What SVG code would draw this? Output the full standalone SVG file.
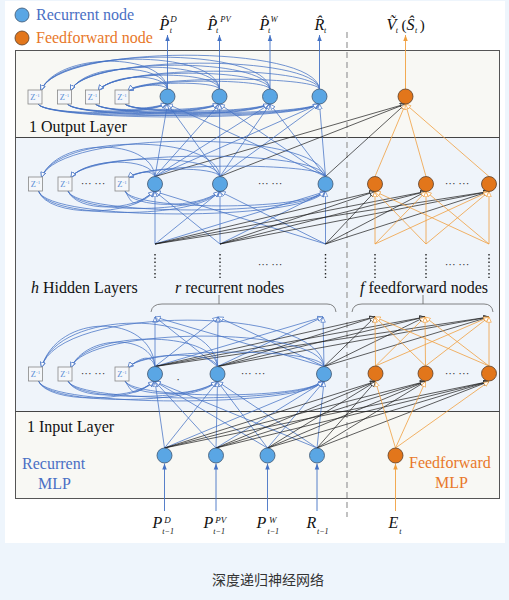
<svg xmlns="http://www.w3.org/2000/svg" width="509" height="600" viewBox="0 0 509 600">
<style>
.b{fill:none;stroke:#4472c4;stroke-width:0.75;marker-end:url(#ab)}
.k{fill:none;stroke:#1a1a1a;stroke-width:0.7;marker-end:url(#ak)}
.o{fill:none;stroke:#f0a040;stroke-width:0.8;marker-end:url(#ao)}
.rb{fill:#5aa6e4;stroke:#3f5670;stroke-width:0.8}
.ro{fill:#e2761b;stroke:#5a3f2a;stroke-width:0.8}
.z rect{fill:#f5f7fa;stroke:#888;stroke-width:0.8}
.z text{font-family:"Liberation Serif",serif;font-size:8.5px;fill:#5b8fd6;text-anchor:middle}
.t{font-family:"Liberation Serif",serif;font-size:16px;fill:#111}
.tb{font-family:"Liberation Serif",serif;font-size:16px;fill:#4a6fc4}
.to{font-family:"Liberation Serif",serif;font-size:16px;fill:#e8782a}
.m{font-family:"Liberation Serif",serif;font-style:italic;fill:#111}
.dots{font-family:"Liberation Serif",serif;font-size:11px;fill:#222;text-anchor:middle}
.vd{stroke:#222;stroke-width:1.4;stroke-dasharray:1.4 2.4}
.ua{stroke-width:0.9}
</style>
<defs>
<marker id="ab" viewBox="0 0 8 8" refX="7.5" refY="4" markerWidth="6" markerHeight="6" markerUnits="userSpaceOnUse" orient="auto"><path d="M0.5,1 L7.5,4 L0.5,7 Z" fill="#fff" stroke="#4472c4" stroke-width="0.9"/></marker>
<marker id="ak" viewBox="0 0 8 8" refX="7.5" refY="4" markerWidth="6" markerHeight="6" markerUnits="userSpaceOnUse" orient="auto"><path d="M0.5,1 L7.5,4 L0.5,7 Z" fill="#fff" stroke="#1a1a1a" stroke-width="0.9"/></marker>
<marker id="ao" viewBox="0 0 8 8" refX="7.5" refY="4" markerWidth="6" markerHeight="6" markerUnits="userSpaceOnUse" orient="auto"><path d="M0.5,1 L7.5,4 L0.5,7 Z" fill="#fff" stroke="#f0a040" stroke-width="0.9"/></marker>
<marker id="fb" viewBox="0 0 8 8" refX="8" refY="4" markerWidth="6" markerHeight="6" markerUnits="userSpaceOnUse" orient="auto"><path d="M0,1 L8,4 L0,7 Z" fill="#4472c4"/></marker>
<marker id="fo" viewBox="0 0 8 8" refX="8" refY="4" markerWidth="6" markerHeight="6" markerUnits="userSpaceOnUse" orient="auto"><path d="M0,1 L8,4 L0,7 Z" fill="#f0a040"/></marker>
</defs>
<rect x="0" y="0" width="509" height="600" fill="#eef5fc"/>
<rect x="5" y="1" width="500" height="542" fill="#fff"/>
<g id="layers">
<rect x="15.5" y="50.5" width="484" height="87" fill="#f8f8f4"/>
<rect x="15.5" y="137.5" width="484" height="274" fill="#eff4fa"/>
<rect x="15.5" y="411.5" width="484" height="87" fill="#f8f8f4"/>
<rect x="15.5" y="50.5" width="484" height="448" fill="none" stroke="#555" stroke-width="1"/>
<line x1="15.5" y1="137.5" x2="499.5" y2="137.5" stroke="#444" stroke-width="1"/>
<line x1="15.5" y1="411.5" x2="499.5" y2="411.5" stroke="#444" stroke-width="1"/>
<line x1="347" y1="32" x2="347" y2="517" stroke="#999" stroke-width="1.2" stroke-dasharray="6 4"/>
</g>
<g id="legend">
<circle class="rb" cx="22" cy="15" r="7"/>
<text class="tb" x="36" y="20">Recurrent node</text>
<circle class="ro" cx="22" cy="38" r="7"/>
<text class="to" x="36" y="43">Feedforward node</text>
</g>
<g id="labels">
<text class="t" x="29" y="132">1 Output Layer</text>
<text class="t" x="31" y="293"><tspan font-style="italic">h</tspan> Hidden Layers</text>
<text class="t" x="175" y="293"><tspan font-style="italic">r</tspan> recurrent nodes</text>
<text class="t" x="360" y="293"><tspan font-style="italic">f</tspan> feedforward nodes</text>
<text class="t" x="27" y="432">1 Input Layer</text>
<text class="tb" x="22" y="469">Recurrent</text>
<text class="tb" x="38" y="489">MLP</text>
<text class="to" x="409" y="468">Feedforward</text>
<text class="to" x="435" y="488">MLP</text>
<text x="268" y="585" font-family="'Noto Sans CJK SC', sans-serif" font-size="14" fill="#333" text-anchor="middle">深度递归神经网络</text>
</g>
<g id="braces" fill="none" stroke="#666" stroke-width="0.8">
<path d="M151,312 Q152,304 162,304 L327,304 Q335,304 336,312 M219,295 L219,304"/>
<path d="M352,312 Q353,304 362,304 L484,304 Q492,304 493,312 M423,295 L423,304"/>
</g>
<g id="dots">
<line class="vd" x1="155" y1="254" x2="155" y2="278"/>
<line class="vd" x1="220" y1="254" x2="220" y2="278"/>
<line class="vd" x1="325.5" y1="254" x2="325.5" y2="278"/>
<line class="vd" x1="375" y1="254" x2="375" y2="278"/>
<line class="vd" x1="426" y1="254" x2="426" y2="278"/>
<line class="vd" x1="489" y1="254" x2="489" y2="278"/>
<text class="dots" x="270" y="268">··· ···</text>
<text class="dots" x="457" y="268">··· ···</text>
<text class="dots" x="93" y="187">··· ···</text>
<text class="dots" x="270" y="187">··· ···</text>
<text class="dots" x="457" y="187">··· ···</text>
<text class="dots" x="93" y="377">··· ···</text>
<text class="dots" x="253" y="377">··· ···</text>
<text class="dots" x="457" y="377">··· ···</text>
<text class="dots" x="178" y="383">·</text>
</g>
<g id="connectors">
<path class="ua" d="M167.5,89 L167.5,35" stroke="#4472c4" marker-end="url(#fb)"/>
<path class="ua" d="M219.5,89 L219.5,35" stroke="#4472c4" marker-end="url(#fb)"/>
<path class="ua" d="M270,89 L270,35" stroke="#4472c4" marker-end="url(#fb)"/>
<path class="ua" d="M319.5,89 L319.5,35" stroke="#4472c4" marker-end="url(#fb)"/>
<path class="ua" d="M405.5,89 L405.5,35" stroke="#f0a040" marker-end="url(#fo)"/>
<path class="ua" d="M164.5,511 L164.5,463.5" stroke="#4472c4" marker-end="url(#fb)"/>
<path class="ua" d="M216,511 L216,463.5" stroke="#4472c4" marker-end="url(#fb)"/>
<path class="ua" d="M267.5,511 L267.5,463.5" stroke="#4472c4" marker-end="url(#fb)"/>
<path class="ua" d="M317,511 L317,463.5" stroke="#4472c4" marker-end="url(#fb)"/>
<path class="ua" d="M395.5,511 L395.5,463.5" stroke="#f0a040" marker-end="url(#fo)"/>
<path class="b" d="M164.5,448 L155,381.5"/><path class="b" d="M164.5,448 L217.5,381.5"/><path class="b" d="M164.5,448 L324,381.5"/>
<path class="b" d="M216,448 L155,381.5"/><path class="b" d="M216,448 L217.5,381.5"/><path class="b" d="M216,448 L324,381.5"/>
<path class="b" d="M267.5,448 L155,381.5"/><path class="b" d="M267.5,448 L217.5,381.5"/><path class="b" d="M267.5,448 L324,381.5"/>
<path class="b" d="M317,448 L155,381.5"/><path class="b" d="M317,448 L217.5,381.5"/><path class="b" d="M317,448 L324,381.5"/>
<path class="k" d="M164.5,448 L375.5,381.5"/><path class="k" d="M164.5,448 L425.5,381.5"/><path class="k" d="M164.5,448 L489,381.5"/>
<path class="k" d="M216,448 L375.5,381.5"/><path class="k" d="M216,448 L425.5,381.5"/><path class="k" d="M216,448 L489,381.5"/>
<path class="k" d="M267.5,448 L375.5,381.5"/><path class="k" d="M267.5,448 L425.5,381.5"/><path class="k" d="M267.5,448 L489,381.5"/>
<path class="k" d="M317,448 L375.5,381.5"/><path class="k" d="M317,448 L425.5,381.5"/><path class="k" d="M317,448 L489,381.5"/>
<path class="o" d="M395.5,448 L375.5,381.5"/><path class="o" d="M395.5,448 L425.5,381.5"/><path class="o" d="M395.5,448 L489,381.5"/>
<path class="b" d="M155,366.5 L155,317"/><path class="b" d="M155,366.5 L218,317"/><path class="b" d="M155,366.5 L323,317"/>
<path class="b" d="M217.5,366.5 L155,317"/><path class="b" d="M217.5,366.5 L218,317"/><path class="b" d="M217.5,366.5 L323,317"/>
<path class="b" d="M324,366.5 L155,317"/><path class="b" d="M324,366.5 L218,317"/><path class="b" d="M324,366.5 L323,317"/>
<path class="k" d="M155,366.5 L375,317"/><path class="k" d="M155,366.5 L425,317"/><path class="k" d="M155,366.5 L489,317"/>
<path class="k" d="M217.5,366.5 L375,317"/><path class="k" d="M217.5,366.5 L425,317"/><path class="k" d="M217.5,366.5 L489,317"/>
<path class="k" d="M324,366.5 L375,317"/><path class="k" d="M324,366.5 L425,317"/><path class="k" d="M324,366.5 L489,317"/>
<path class="o" d="M375.5,366 L375,317"/><path class="o" d="M375.5,366 L425,317"/><path class="o" d="M375.5,366 L489,317"/>
<path class="o" d="M425.5,366 L375,317"/><path class="o" d="M425.5,366 L425,317"/><path class="o" d="M425.5,366 L489,317"/>
<path class="o" d="M489,366 L375,317"/><path class="o" d="M489,366 L425,317"/><path class="o" d="M489,366 L489,317"/>
<path class="b" d="M155,244 L155,191.5"/><path class="b" d="M155,244 L220,191.5"/><path class="b" d="M155,244 L325.5,191.5"/>
<path class="b" d="M220,244 L155,191.5"/><path class="b" d="M220,244 L220,191.5"/><path class="b" d="M220,244 L325.5,191.5"/>
<path class="b" d="M325.5,244 L155,191.5"/><path class="b" d="M325.5,244 L220,191.5"/><path class="b" d="M325.5,244 L325.5,191.5"/>
<path class="k" d="M155,244 L375,191.5"/><path class="k" d="M155,244 L426,191.5"/><path class="k" d="M155,244 L489,191.5"/>
<path class="k" d="M220,244 L375,191.5"/><path class="k" d="M220,244 L426,191.5"/><path class="k" d="M220,244 L489,191.5"/>
<path class="k" d="M325.5,244 L375,191.5"/><path class="k" d="M325.5,244 L426,191.5"/><path class="k" d="M325.5,244 L489,191.5"/>
<path class="o" d="M375,244 L375,191.5"/><path class="o" d="M375,244 L426,191.5"/><path class="o" d="M375,244 L489,191.5"/>
<path class="o" d="M426,244 L375,191.5"/><path class="o" d="M426,244 L426,191.5"/><path class="o" d="M426,244 L489,191.5"/>
<path class="o" d="M489,244 L375,191.5"/><path class="o" d="M489,244 L426,191.5"/><path class="o" d="M489,244 L489,191.5"/>
<path class="b" d="M155,176.5 L167.5,104"/><path class="b" d="M155,176.5 L219.5,104"/><path class="b" d="M155,176.5 L270,104"/><path class="b" d="M155,176.5 L319.5,104"/>
<path class="b" d="M220,176.5 L167.5,104"/><path class="b" d="M220,176.5 L219.5,104"/><path class="b" d="M220,176.5 L270,104"/><path class="b" d="M220,176.5 L319.5,104"/>
<path class="b" d="M325.5,176.5 L167.5,104"/><path class="b" d="M325.5,176.5 L219.5,104"/><path class="b" d="M325.5,176.5 L270,104"/><path class="b" d="M325.5,176.5 L319.5,104"/>
<path class="k" d="M155,176.5 L405.5,104"/><path class="k" d="M220,176.5 L405.5,104"/><path class="k" d="M325.5,176.5 L405.5,104"/>
<path class="o" d="M375,176.5 L405.5,104"/><path class="o" d="M426,176.5 L405.5,104"/><path class="o" d="M489,176.5 L405.5,104"/>
<path class="b" d="M167.5,89 C163.5,51.7 57,51.7 41,90.5"/>
<path class="b" d="M219.5,89 C215.5,49 57,49 41,90.5"/>
<path class="b" d="M270,89 C266,46.3 57,46.3 41,90.5"/>
<path class="b" d="M319.5,89 C315.5,43.7 57,43.7 41,90.5"/>
<path class="b" d="M167.5,89 C163.5,62.3 86.5,62.3 70.5,90.5"/>
<path class="b" d="M219.5,89 C215.5,59.7 86.5,59.7 70.5,90.5"/>
<path class="b" d="M270,89 C266,57 86.5,57 70.5,90.5"/>
<path class="b" d="M319.5,89 C315.5,54.3 86.5,54.3 70.5,90.5"/>
<path class="b" d="M167.5,89 C163.5,73 114.5,73 98.5,90.5"/>
<path class="b" d="M219.5,89 C215.5,70.3 114.5,70.3 98.5,90.5"/>
<path class="b" d="M270,89 C266,67.7 114.5,67.7 98.5,90.5"/>
<path class="b" d="M319.5,89 C315.5,65 114.5,65 98.5,90.5"/>
<path class="b" d="M167.5,89 C163.5,83.7 144,83.7 128,90.5"/>
<path class="b" d="M219.5,89 C215.5,81 144,81 128,90.5"/>
<path class="b" d="M270,89 C266,78.3 144,78.3 128,90.5"/>
<path class="b" d="M319.5,89 C315.5,75.7 144,75.7 128,90.5"/>
<path class="b" d="M38,104 C47,115.3 145.5,115.3 166.5,104"/>
<path class="b" d="M38,104 C47,117.3 197.5,117.3 218.5,104"/>
<path class="b" d="M38,104 C47,119.3 248,119.3 269,104"/>
<path class="b" d="M38,104 C47,121.3 297.5,121.3 318.5,104"/>
<path class="b" d="M67.5,104 C76.5,113.3 145.5,113.3 166.5,104"/>
<path class="b" d="M67.5,104 C76.5,115.3 197.5,115.3 218.5,104"/>
<path class="b" d="M67.5,104 C76.5,117.3 248,117.3 269,104"/>
<path class="b" d="M67.5,104 C76.5,119.3 297.5,119.3 318.5,104"/>
<path class="b" d="M95.5,104 C104.5,111.3 145.5,111.3 166.5,104"/>
<path class="b" d="M95.5,104 C104.5,113.3 197.5,113.3 218.5,104"/>
<path class="b" d="M95.5,104 C104.5,115.3 248,115.3 269,104"/>
<path class="b" d="M95.5,104 C104.5,117.3 297.5,117.3 318.5,104"/>
<path class="b" d="M125,104 C134,109.3 145.5,109.3 166.5,104"/>
<path class="b" d="M125,104 C134,111.3 197.5,111.3 218.5,104"/>
<path class="b" d="M125,104 C134,113.3 248,113.3 269,104"/>
<path class="b" d="M125,104 C134,115.3 297.5,115.3 318.5,104"/>
<path class="b" d="M155,176.5 C151,137.2 57.5,137.2 41.5,177.5"/>
<path class="b" d="M220,176.5 C216,133.2 57.5,133.2 41.5,177.5"/>
<path class="b" d="M325.5,176.5 C321.5,129.2 57.5,129.2 41.5,177.5"/>
<path class="b" d="M155,176.5 C151,157.2 87,157.2 71,177.5"/>
<path class="b" d="M220,176.5 C216,153.2 87,153.2 71,177.5"/>
<path class="b" d="M325.5,176.5 C321.5,149.2 87,149.2 71,177.5"/>
<path class="b" d="M155,176.5 C151,170.5 144,170.5 128,177.5"/>
<path class="b" d="M220,176.5 C216,166.5 144,166.5 128,177.5"/>
<path class="b" d="M325.5,176.5 C321.5,162.5 144,162.5 128,177.5"/>
<path class="b" d="M38.5,191 C47.5,217.5 133,217.5 154,191.5"/>
<path class="b" d="M38.5,191 C47.5,219.5 198,219.5 219,191.5"/>
<path class="b" d="M38.5,191 C47.5,221.5 303.5,221.5 324.5,191.5"/>
<path class="b" d="M68,191 C77,212.2 133,212.2 154,191.5"/>
<path class="b" d="M68,191 C77,214.2 198,214.2 219,191.5"/>
<path class="b" d="M68,191 C77,216.2 303.5,216.2 324.5,191.5"/>
<path class="b" d="M125,191 C134,206.8 133,206.8 154,191.5"/>
<path class="b" d="M125,191 C134,208.8 198,208.8 219,191.5"/>
<path class="b" d="M125,191 C134,210.8 303.5,210.8 324.5,191.5"/>
<path class="b" d="M155,366.5 C151,312.5 57.5,312.5 41.5,367.5"/>
<path class="b" d="M217.5,366.5 C213.5,308.5 57.5,308.5 41.5,367.5"/>
<path class="b" d="M324,366.5 C320,304.5 57.5,304.5 41.5,367.5"/>
<path class="b" d="M155,366.5 C151,333.8 87,333.8 71,367.5"/>
<path class="b" d="M217.5,366.5 C213.5,329.8 87,329.8 71,367.5"/>
<path class="b" d="M324,366.5 C320,325.8 87,325.8 71,367.5"/>
<path class="b" d="M155,366.5 C151,355.2 144,355.2 128,367.5"/>
<path class="b" d="M217.5,366.5 C213.5,351.2 144,351.2 128,367.5"/>
<path class="b" d="M324,366.5 C320,347.2 144,347.2 128,367.5"/>
<path class="b" d="M38.5,381 C47.5,403.5 133,403.5 154,381.5"/>
<path class="b" d="M38.5,381 C47.5,405.5 195.5,405.5 216.5,381.5"/>
<path class="b" d="M38.5,381 C47.5,407.5 302,407.5 323,381.5"/>
<path class="b" d="M68,381 C77,399.5 133,399.5 154,381.5"/>
<path class="b" d="M68,381 C77,401.5 195.5,401.5 216.5,381.5"/>
<path class="b" d="M68,381 C77,403.5 302,403.5 323,381.5"/>
<path class="b" d="M125,381 C134,395.5 133,395.5 154,381.5"/>
<path class="b" d="M125,381 C134,397.5 195.5,397.5 216.5,381.5"/>
<path class="b" d="M125,381 C134,399.5 302,399.5 323,381.5"/>
</g>
<g id="delays" class="z">
<g id="z-out-1"><rect x="28" y="90" width="14" height="14"/><text x="35" y="100">Z<tspan font-size="5" dy="-3">-1</tspan></text></g>
<g id="z-out-2"><rect x="57.5" y="90" width="14" height="14"/><text x="64.5" y="100">Z<tspan font-size="5" dy="-3">-1</tspan></text></g>
<g id="z-out-3"><rect x="85.5" y="90" width="14" height="14"/><text x="92.5" y="100">Z<tspan font-size="5" dy="-3">-1</tspan></text></g>
<g id="z-out-4"><rect x="115" y="90" width="14" height="14"/><text x="122" y="100">Z<tspan font-size="5" dy="-3">-1</tspan></text></g>
<g id="z-h1-1"><rect x="28.5" y="177" width="14" height="14"/><text x="35.5" y="187">Z<tspan font-size="5" dy="-3">-1</tspan></text></g>
<g id="z-h1-2"><rect x="58" y="177" width="14" height="14"/><text x="65" y="187">Z<tspan font-size="5" dy="-3">-1</tspan></text></g>
<g id="z-h1-3"><rect x="115" y="177" width="14" height="14"/><text x="122" y="187">Z<tspan font-size="5" dy="-3">-1</tspan></text></g>
<g id="z-h2-1"><rect x="28.5" y="367" width="14" height="14"/><text x="35.5" y="377">Z<tspan font-size="5" dy="-3">-1</tspan></text></g>
<g id="z-h2-2"><rect x="58" y="367" width="14" height="14"/><text x="65" y="377">Z<tspan font-size="5" dy="-3">-1</tspan></text></g>
<g id="z-h2-3"><rect x="115" y="367" width="14" height="14"/><text x="122" y="377">Z<tspan font-size="5" dy="-3">-1</tspan></text></g>
</g>
<g id="nodes">
<g id="out-r1"><circle class="rb" cx="167.5" cy="96.5" r="7.5"/></g>
<g id="out-r2"><circle class="rb" cx="219.5" cy="96.5" r="7.5"/></g>
<g id="out-r3"><circle class="rb" cx="270" cy="96.5" r="7.5"/></g>
<g id="out-r4"><circle class="rb" cx="319.5" cy="96.5" r="7.5"/></g>
<g id="out-f1"><circle class="ro" cx="405.5" cy="96.5" r="7.5"/></g>
<g id="h1-r1"><circle class="rb" cx="155" cy="184" r="7.5"/></g>
<g id="h1-r2"><circle class="rb" cx="220" cy="184" r="7.5"/></g>
<g id="h1-r3"><circle class="rb" cx="325.5" cy="184" r="7.5"/></g>
<g id="h1-f1"><circle class="ro" cx="375" cy="184" r="7.5"/></g>
<g id="h1-f2"><circle class="ro" cx="426" cy="184" r="7.5"/></g>
<g id="h1-f3"><circle class="ro" cx="489" cy="184" r="7.5"/></g>
<g id="h2-r1"><circle class="rb" cx="155" cy="374" r="7.5"/></g>
<g id="h2-r2"><circle class="rb" cx="217.5" cy="374" r="7.5"/></g>
<g id="h2-r3"><circle class="rb" cx="324" cy="374" r="7.5"/></g>
<g id="h2-f1"><circle class="ro" cx="375.5" cy="373.5" r="7.5"/></g>
<g id="h2-f2"><circle class="ro" cx="425.5" cy="373.5" r="7.5"/></g>
<g id="h2-f3"><circle class="ro" cx="489" cy="373.5" r="7.5"/></g>
<g id="in-r1"><circle class="rb" cx="164.5" cy="455.5" r="7.5"/></g>
<g id="in-r2"><circle class="rb" cx="216" cy="455.5" r="7.5"/></g>
<g id="in-r3"><circle class="rb" cx="267.5" cy="455.5" r="7.5"/></g>
<g id="in-r4"><circle class="rb" cx="317" cy="455.5" r="7.5"/></g>
<g id="in-f1"><circle class="ro" cx="395.5" cy="455.5" r="7.5"/></g>
</g>
<g id="math-top">
<text class="m" x="159.5" y="29.5" font-size="16">P&#x302;<tspan font-size="9" dx="1" dy="-7.5">D</tspan><tspan font-size="8" dx="-7" dy="11">t</tspan></text>
<text class="m" x="207.5" y="29.5" font-size="16">P&#x302;<tspan font-size="8.5" dx="3" dy="-7.5">PV</tspan><tspan font-size="8" dx="-14.7" dy="11">t</tspan></text>
<text class="m" x="259.5" y="29.5" font-size="16">P&#x302;<tspan font-size="8.5" dx="1.2" dy="-8">W</tspan><tspan font-size="8" dx="-9.5" dy="11.5">t</tspan></text>
<text class="m" x="314.5" y="29.5" font-size="16">R&#x302;<tspan font-size="8" dx="-0.3" dy="3.5">t</tspan></text>
<text class="m" x="386.5" y="29.5" font-size="16">V&#x303;<tspan font-size="8" dx="-0.5" dy="3.5">t</tspan><tspan font-style="normal" font-size="15" dx="3.5" dy="-3.5">(</tspan><tspan dx="0">Ŝ</tspan><tspan font-size="8" dx="0.5" dy="3.5">t</tspan><tspan font-style="normal" font-size="15" dx="2.5" dy="-3.5">)</tspan></text>
</g>
<g id="math-bottom">
<text class="m" x="152.5" y="528" font-size="16">P<tspan font-size="9" dx="2" dy="-5">D</tspan><tspan font-size="8" dx="-8.5" dy="11">t−1</tspan></text>
<text class="m" x="203.5" y="528" font-size="16">P<tspan font-size="9" dx="2" dy="-5">PV</tspan><tspan font-size="8" dx="-13" dy="11">t−1</tspan></text>
<text class="m" x="256.5" y="528" font-size="16">P<tspan font-size="9" dx="2.7" dy="-5">W</tspan><tspan font-size="8" dx="-9" dy="11">t−1</tspan></text>
<text class="m" x="306.5" y="528" font-size="16">R<tspan font-size="8" dx="0.7" dy="6">t−1</tspan></text>
<text class="m" x="388.5" y="528" font-size="16">E<tspan font-size="8" dx="1" dy="6">t</tspan></text>
</g>
</svg>
